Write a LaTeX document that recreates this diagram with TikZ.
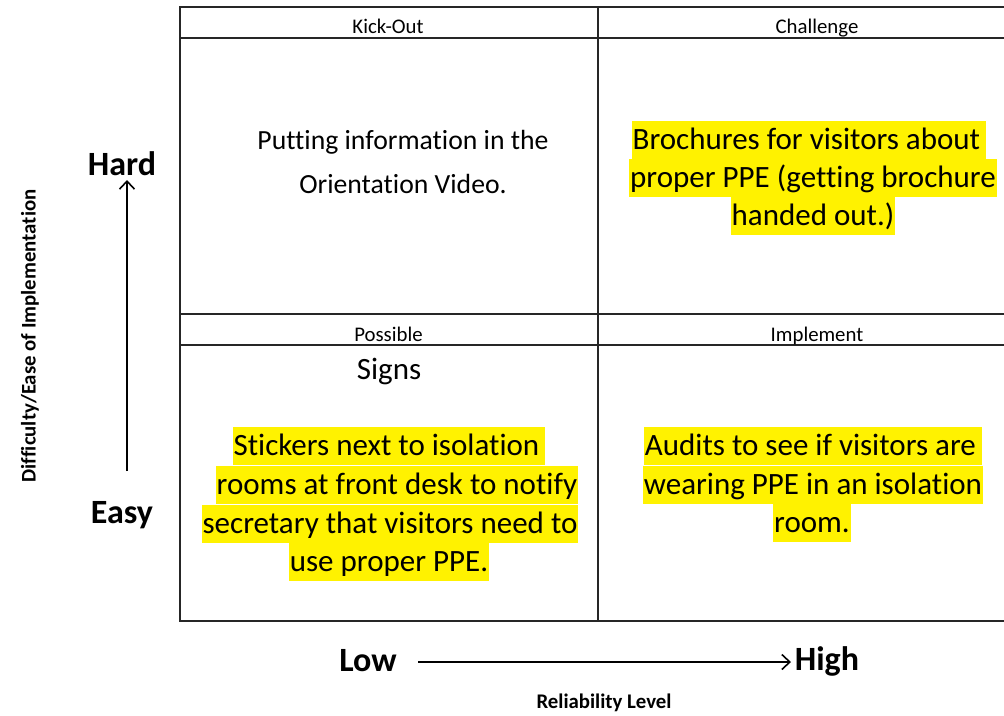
\documentclass[tikz,border=0pt]{standalone}
\usepackage{fontspec}
\setmainfont{Carlito}[Ligatures=CommonOff]
\usetikzlibrary{arrows.meta}
\begin{document}
\begin{tikzpicture}[x=1pt,y=-1pt,
  grid/.style={line width=1.6pt, draw=black!85},
  hdr/.style={font=\fontsize{20.8}{24}\selectfont, anchor=base, inner sep=0pt},
  plain/.style={font=\fontsize{27.7}{36}\selectfont, anchor=base, inner sep=0pt},
  body/.style={font=\fontsize{31}{38}\selectfont, anchor=base, inner sep=0pt},
  hl/.style={body, fill=yellow, inner xsep=1pt, inner ysep=0pt, text height=28pt, text depth=10pt},
  axislbl/.style={font=\bfseries\fontsize{34}{38}\selectfont, inner sep=0pt},
  smalllbl/.style={font=\bfseries\fontsize{20.8}{24}\selectfont, inner sep=0pt},
  axisarrow/.style={line width=1.6pt, -{Straight Barb[length=8pt,width=15pt]}}
]
\useasboundingbox (0,0) rectangle (1004,715);

% grid
\coordinate (TL) at (180,7);
\coordinate (TR) at (1004,7);
\coordinate (BL) at (180,621);
\coordinate (BR) at (1004,621);
\draw[grid] (TR) -- (TL) -- (BL) -- (BR);
\draw[grid] (180,38) -- (1004,38);
\draw[grid] (180,314) -- (1004,314);
\draw[grid] (180,345) -- (1004,345);
\draw[grid] (598,7) -- (598,621);

% headers
\node[hdr] (h1) at (388,33) {Kick-Out};
\node[hdr] (h2) at (817,33) {Challenge};
\node[hdr] (h3) at (388.5,341) {Possible};
\node[hdr] (h4) at (817,341) {Implement};

% top-left
\node[plain] (tl1) at (403,149) {Putting information in the};
\node[plain] (tl2) at (403,193) {Orientation Video.};

% top-right
\node[hl] (tr1) at (809,149) {Brochures for visitors about\,};
\node[hl] (tr2) at (813,187) {proper PPE (getting brochure};
\node[hl] (tr3) at (813,225) {handed out.)};

% bottom-left
\node[body] (bl0) at (389,379) {Signs};
\node[hl] (bl1) at (389,455) {Stickers next to isolation\,};
\node[hl] (bl2) at (397,494) {rooms at front desk to notify};
\node[hl] (bl3) at (390,533) {secretary that visitors need to};
\node[hl] (bl4) at (389,571) {use proper PPE.};

% bottom-right
\node[hl] (br1) at (813,455) {Audits to see if visitors are\,};
\node[hl] (br2) at (813,494) {wearing PPE in an isolation};
\node[hl] (br3) at (812,532) {room.};

% axes
\node[axislbl] (hard) at (122,164) {Hard};
\node[axislbl] (easy) at (122,515) {Easy};
\node[axislbl] (low) at (368,661) {Low};
\node[axislbl] (high) at (827,661) {High};
\node[smalllbl] (rel) at (604,703) {Reliability Level};
\node[smalllbl, rotate=90] (diff) at (30,336) {Difficulty/Ease of Implementation};

\coordinate (vS) at (127,471);
\coordinate (vE) at (127,180);
\draw[axisarrow] (vS) -- (vE);
\coordinate (hS) at (418,662);
\coordinate (hE) at (791,662);
\draw[axisarrow] (hS) -- (hE);
\end{tikzpicture}
\end{document}
